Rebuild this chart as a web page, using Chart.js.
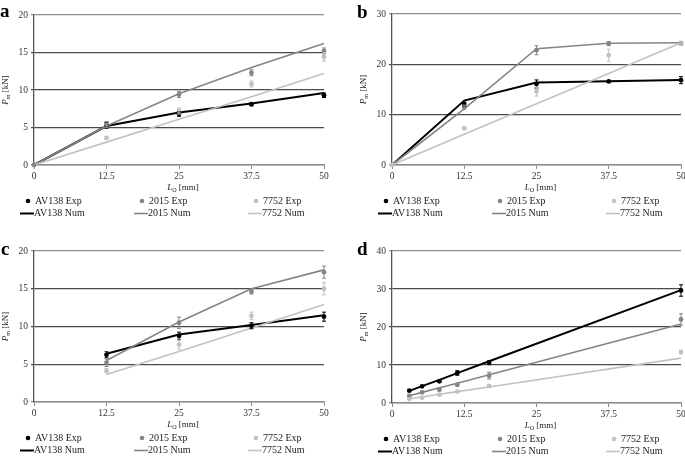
<!DOCTYPE html>
<html>
<head>
<meta charset="utf-8">
<script src="https://cdn.jsdelivr.net/npm/chart.js@4.4.1/dist/chart.umd.min.js"></script>
<style>
body { margin: 0; background: #fff; }
#wrap { position: relative; width: 685px; height: 457px; overflow: hidden; }
canvas { position: absolute; }
</style>
</head>
<body>
<div id="wrap">
  <canvas id="ca" width="342" height="228" style="left:0;top:0"></canvas>
  <canvas id="cb" width="343" height="228" style="left:342px;top:0"></canvas>
  <canvas id="cc" width="342" height="229" style="left:0;top:228px"></canvas>
  <canvas id="cd" width="343" height="229" style="left:342px;top:228px"></canvas>
</div>
<script>
// series
var seriesNames = ['AV138', '2015', '7752'];
var seriesColors = ['#000000', '#858585', '#c2c2c2'];
var numWidths = [2, 1.6, 1.6];
var xTickLabels = ['0', '12.5', '25', '37.5', '50'];

// panel a
var aX = [0, 12.5, 25, 37.5, 50];
var aExpAV138 = [null, 5.3, 6.8, 8.1, 9.3];
var aErrAV138 = [0, 0.4, 0.3, 0.2, 0.3];
var aExp2015 = [0, 5.4, 9.4, 12.3, 15.2];
var aErr2015 = [0, 0.4, 0.4, 0.4, 0.4];
var aExp7752 = [null, 3.6, 7.2, 10.8, 14.4];
var aErr7752 = [0, 0.2, 0.4, 0.4, 0.55];
var aNumAV138 = [0, 5.2, 7.0, 8.2, 9.6];
var aNum2015 = [0, 5.2, 9.5, 13.0, 16.2];
var aNum7752 = [0, 3.05, 6.1, 9.1, 12.2];

// panel b
var bX = [0, 12.5, 25, 37.5, 50];
var bExpAV138 = [null, 12.1, 16.1, 16.6, 16.85];
var bErrAV138 = [0, 0.4, 0.8, 0.2, 0.7];
var bExp2015 = [null, 11.5, 22.8, 24.1, 24.1];
var bErr2015 = [0, 0.4, 0.9, 0.4, 0.3];
var bExp7752 = [0, 7.3, 14.6, 21.8, 24.2];
var bErr7752 = [0, 0.3, 0.9, 1.2, 0.4];
var bNumAV138 = [0, 12.8, 16.4, 16.65, 16.9];
var bNum2015 = [0, 11.15, 23.1, 24.2, 24.3];
var bNum7752 = [0, 6.1, 12.15, 18.2, 24.3];

// panel c
var cX = [12.5, 25, 37.5, 50];
var cExpAV138 = [6.25, 8.75, 10.1, 11.3];
var cErrAV138 = [0.4, 0.5, 0.4, 0.6];
var cExp2015 = [5.2, 10.5, 14.6, 17.2];
var cErr2015 = [0.5, 0.75, 0.3, 0.8];
var cExp7752 = [4.15, 7.6, 11.4, 15.0];
var cErr7752 = [0.3, 0.6, 0.5, 0.8];
var cNumAV138 = [6.4, 8.95, 10.2, 11.5];
var cNum2015 = [5.5, 10.6, 15.0, 17.5];
var cNum7752 = [3.65, 6.7, 9.8, 12.9];

// panel d
var dX = [3, 5.2, 8.2, 11.3, 16.8, 50];
var dExpAV138 = [3.25, 4.4, 5.7, 7.9, 10.6, 29.6];
var dErrAV138 = [0.2, 0.2, 0.3, 0.6, 0.5, 1.5];
var dExp2015 = [1.85, 2.8, 3.5, 4.8, 7.2, 22.0];
var dErr2015 = [0.2, 0.2, 0.3, 0.3, 0.9, 1.5];
var dExp7752 = [1.05, 1.4, 2.2, 3.0, 4.5, 13.4];
var dErr7752 = [0.1, 0.1, 0.2, 0.2, 0.3, 0.5];
var dNumAV138 = [3.2, 4.45, 6.1, 7.85, 11.0, 29.7];
var dNum2015 = [1.9, 2.8, 4.0, 5.2, 7.45, 20.8];
var dNum7752 = [1.1, 1.6, 2.3, 3.0, 4.2, 11.8];

var SERIF = "'Liberation Serif', 'DejaVu Serif', serif";

function pts(xs, ys) {
    return xs.map(function(x, i) { return { x: x, y: ys[i] }; });
}

// draws a run of text pieces centred on (x, y)
function richText(ctx, parts, x, y) {
    var total = 0;
    parts.forEach(function(p) { ctx.font = p.font; p.w = ctx.measureText(p.t).width; total += p.w; });
    var cx = x - total / 2;
    parts.forEach(function(p) {
        ctx.font = p.font;
        ctx.fillText(p.t, cx, y + (p.dy || 0));
        cx += p.w;
    });
}

var errorBars = {
    id: 'errorBars',
    afterDatasetsDraw: function(chart) {
        var ctx = chart.ctx, ys = chart.scales.y;
        chart.data.datasets.forEach(function(ds, i) {
            if (!ds.err) return;
            var meta = chart.getDatasetMeta(i);
            ctx.save();
            ctx.strokeStyle = ds.borderColor;
            ctx.lineWidth = 1;
            meta.data.forEach(function(el, j) {
                var e = ds.err[j];
                var v = ds.data[j].y;
                if (!e || v === null) return;
                var t = ys.getPixelForValue(v + e), b = ys.getPixelForValue(v - e);
                ctx.beginPath();
                ctx.moveTo(el.x, t); ctx.lineTo(el.x, b);
                ctx.moveTo(el.x - 2, t); ctx.lineTo(el.x + 2, t);
                ctx.moveTo(el.x - 2, b); ctx.lineTo(el.x + 2, b);
                ctx.stroke();
            });
            ctx.restore();
        });
    }
};

var deco = {
    id: 'deco',
    afterDraw: function(chart, args, opts) {
        var ctx = chart.ctx, a = chart.chartArea;
        ctx.save();
        ctx.fillStyle = '#000';
        ctx.textAlign = 'left';
        ctx.textBaseline = 'alphabetic';
        ctx.font = 'bold 19px ' + SERIF;
        ctx.fillText(opts.letter, opts.letterX, opts.letterY);

        ctx.fillStyle = '#222';
        ctx.textBaseline = 'middle';
        // y title
        ctx.save();
        ctx.translate(a.left - 28, (a.top + a.bottom) / 2);
        ctx.rotate(-Math.PI / 2);
        richText(ctx, [
            { t: 'P', font: 'italic 9px ' + SERIF },
            { t: 'm', font: '6px ' + SERIF, dy: 2 },
            { t: ' [kN]', font: '9px ' + SERIF }
        ], 0, 0);
        ctx.restore();
        // x title
        richText(ctx, [
            { t: 'L', font: 'italic 9px ' + SERIF },
            { t: 'O', font: '6px ' + SERIF, dy: 2 },
            { t: ' [mm]', font: '9px ' + SERIF }
        ], (a.left + a.right) / 2 + 4, a.bottom + 23);

        // legend
        var rows = [a.bottom + 36, a.bottom + 48.5];
        ctx.font = '10px ' + SERIF;
        seriesNames.forEach(function(name, i) {
            var tx = a.left + i * 114;
            ctx.fillStyle = seriesColors[i];
            ctx.beginPath();
            ctx.arc(tx - 6, rows[0], 2.3, 0, Math.PI * 2);
            ctx.fill();
            ctx.strokeStyle = seriesColors[i];
            ctx.lineWidth = numWidths[i];
            ctx.beginPath();
            ctx.moveTo(tx - 14, rows[1]); ctx.lineTo(tx, rows[1]);
            ctx.stroke();
            ctx.fillStyle = '#222';
            ctx.fillText(name + ' Exp', tx + 1, rows[0]);
            ctx.fillText(name + ' Num', tx, rows[1]);
        });
        ctx.restore();
    }
};

function makePanel(id, p) {
    var datasets = [];
    for (var i = 0; i < 3; i++) {
        datasets.push({
            label: seriesNames[i] + ' Exp',
            data: pts(p.x, p.exp[i]),
            err: p.err[i],
            showLine: false,
            pointRadius: 2.4,
            pointBorderWidth: 0,
            backgroundColor: seriesColors[i],
            borderColor: seriesColors[i],
            order: 2 - i,
            clip: false
        });
    }
    for (var k = 0; k < 3; k++) {
        datasets.push({
            label: seriesNames[k] + ' Num',
            data: pts(p.x, p.num[k]),
            showLine: true,
            pointRadius: 0,
            borderWidth: numWidths[k],
            borderColor: seriesColors[k],
            tension: 0,
            order: 5 - k,
            clip: false
        });
    }
    var tickFont = { family: SERIF, size: 9.5 };
    new Chart(document.getElementById(id), {
        type: 'scatter',
        data: { datasets: datasets },
        options: {
            responsive: false,
            animation: false,
            devicePixelRatio: 1,
            layout: { padding: { left: 0, right: p.padRight, top: p.padTop, bottom: 0 } },
            plugins: {
                legend: { display: false },
                tooltip: { enabled: false },
                deco: { letter: p.letter, letterX: p.letterX, letterY: p.letterY }
            },
            scales: {
                x: {
                    type: 'linear', min: 0, max: 50,
                    ticks: {
                        stepSize: 12.5, autoSkip: false, maxRotation: 0, padding: 2,
                        font: tickFont, color: '#333',
                        callback: function(v, idx) { return xTickLabels[idx]; }
                    },
                    grid: { drawOnChartArea: false, tickLength: 4, color: '#8c8c8c' },
                    border: { color: '#8c8c8c', width: 1.5 },
                    afterFit: function(s) { s.height = p.xHeight; s.paddingLeft = 0; s.paddingRight = 0; }
                },
                y: {
                    min: 0, max: p.yMax,
                    ticks: { stepSize: p.yStep, padding: 3, font: tickFont, color: '#333' },
                    grid: {
                        tickLength: 3, lineWidth: 1.3,
                        color: function(c) {
                            if (c.tick.value === 0) return '#8c8c8c';
                            if (c.tick.value === p.yMax) return '#8f8f8f';
                            return '#4a4a4a';
                        }
                    },
                    border: { color: '#555', width: 1.3 },
                    afterFit: function(s) { s.width = p.yWidth; s.paddingTop = 0; s.paddingBottom = 0; }
                }
            }
        },
        plugins: [errorBars, deco]
    });
}

makePanel('ca', {
    letter: 'a', letterX: 0, letterY: 17,
    x: aX, exp: [aExpAV138, aExp2015, aExp7752], err: [aErrAV138, aErr2015, aErr7752],
    num: [aNumAV138, aNum2015, aNum7752],
    yMax: 20, yStep: 5, yWidth: 34, padRight: 18, padTop: 15, xHeight: 63
});
makePanel('cb', {
    letter: 'b', letterX: 15, letterY: 18,
    x: bX, exp: [bExpAV138, bExp2015, bExp7752], err: [bErrAV138, bErr2015, bErr7752],
    num: [bNumAV138, bNum2015, bNum7752],
    yMax: 30, yStep: 10, yWidth: 50, padRight: 3, padTop: 14, xHeight: 63
});
makePanel('cc', {
    letter: 'c', letterX: 1, letterY: 26.5,
    x: cX, exp: [cExpAV138, cExp2015, cExp7752], err: [cErrAV138, cErr2015, cErr7752],
    num: [cNumAV138, cNum2015, cNum7752],
    yMax: 20, yStep: 5, yWidth: 34, padRight: 18, padTop: 23, xHeight: 55
});
makePanel('cd', {
    letter: 'd', letterX: 15, letterY: 26.5,
    x: dX, exp: [dExpAV138, dExp2015, dExp7752], err: [dErrAV138, dErr2015, dErr7752],
    num: [dNumAV138, dNum2015, dNum7752],
    yMax: 40, yStep: 10, yWidth: 50, padRight: 3, padTop: 23, xHeight: 54
});
</script>
</body>
</html>
